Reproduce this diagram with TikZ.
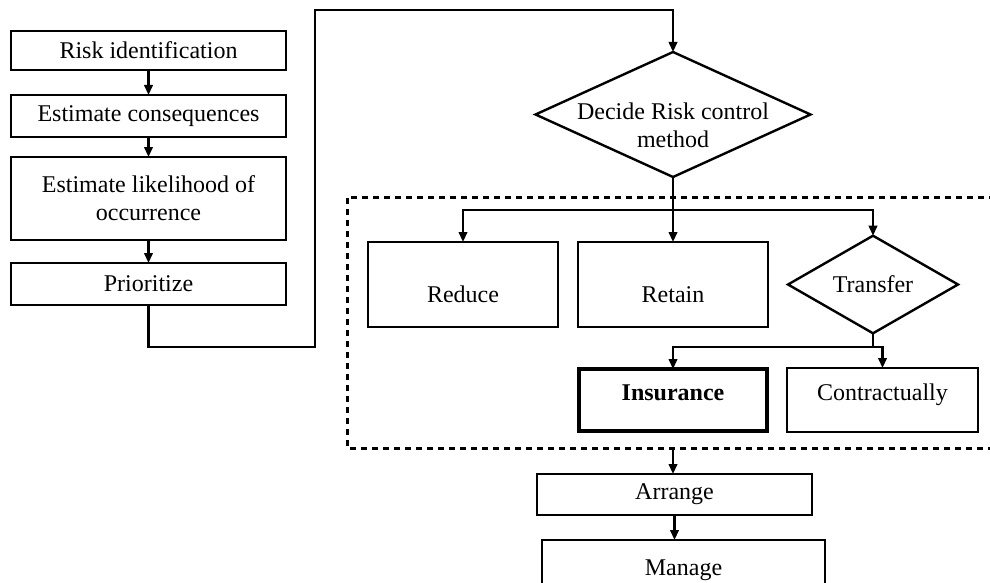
\documentclass[tikz,border=0pt]{standalone}
\usepackage{fontspec}
\setmainfont{Liberation Serif}
\usetikzlibrary{shapes.geometric,arrows.meta}
\newcommand\zerotext[1]{\makebox[0pt]{\smash{\raisebox{-20pt}{\begin{tabular}{@{}c@{}}#1\end{tabular}}}}}
\begin{document}
\begin{tikzpicture}[x=1pt,y=-1pt,
  every node/.style={font=\fontsize{24}{28}\selectfont, inner sep=0pt, outer sep=0pt},
  boxnode/.style={draw, line width=2.4pt, rectangle, align=center},
  thickbox/.style={draw, line width=4pt, rectangle, align=center},
  dianode/.style={draw, line width=2.4pt, diamond, align=center},
  arr/.style={line width=2.2pt, -{Triangle[length=10pt,width=8.5pt]}},
  conn/.style={line width=2.2pt},
  dashbox/.style={line width=3pt, dash pattern=on 6pt off 5pt}]
\useasboundingbox (0,0) rectangle (990,583);
\fill[white] (0,0) rectangle (990,583);

% left column
\node[boxnode, minimum width=275pt, minimum height=39pt] (risk) at (148.5,50.5) {Risk identification};
\node[boxnode, minimum width=275pt, minimum height=42pt] (cons) at (148.5,116) {Estimate consequences};
\node[boxnode, minimum width=275pt, minimum height=83pt] (like) at (148.5,198.5) {Estimate likelihood of\\occurrence};
\node[boxnode, minimum width=275pt, minimum height=42pt] (prio) at (148.5,284) {Prioritize};

% decision
\node[dianode, minimum width=275pt, minimum height=125pt] (decide) at (673,114.5) {\zerotext{Decide Risk control\\method}};

% inner group
\node[boxnode, minimum width=190pt, minimum height=85pt, text height=36pt, text depth=0pt] (reduce) at (463,284.5) {Reduce};
\node[boxnode, minimum width=190pt, minimum height=85pt, text height=36pt, text depth=0pt] (retain) at (673,284.5) {Retain};
\node[dianode, minimum width=170pt, minimum height=85pt] (transfer) at (873,284.5) {Transfer};
\node[thickbox, minimum width=188pt, minimum height=62pt, text height=8pt, text depth=8pt] (insurance) at (673,400) {\textbf{Insurance}};
\node[boxnode, minimum width=191pt, minimum height=64pt, text height=8pt, text depth=8pt] (contract) at (882.5,400) {Contractually};

% bottom
\node[boxnode, minimum width=275pt, minimum height=41pt] (arrange) at (674.5,494.5) {Arrange};
\node[boxnode, minimum width=283pt, minimum height=60pt] (manage) at (683.5,570) {Manage};

% dashed group frame (open to the right edge)
\coordinate (dtr) at (995,197);
\coordinate (dtl) at (347,197);
\coordinate (dbl) at (347,448);
\coordinate (dbr) at (995,448);
\draw[dashbox] (dtr) -- (dtl) -- (dbl) -- (dbr);

% left column connectors
\draw[arr] (risk.south) -- (cons.north);
\draw[arr] (cons.south) -- (like.north);
\draw[arr] (like.south) -- (prio.north);

% loop to decision
\coordinate (c1) at (315,347);
\coordinate (c2) at (315,10);
\draw[arr] (prio.south) |- (c1) -- (c2) -| (decide.north);

% decision branches
\coordinate (br) at (673,210);
\draw[arr] (decide.south) -- (retain.north);
\draw[arr] (br) -| (reduce.north);
\draw[arr] (br) -| (transfer.north);

% transfer branches
\coordinate (tb) at (873,347);
\draw[conn] (transfer.south) -- (tb);
\draw[arr] (tb) -| (insurance.north);
\draw[arr] (tb) -| (contract.north);

% bottom connectors
\coordinate (db) at (673,448);
\draw[arr] (db) -- (arrange.north -| db);
\draw[arr] (arrange.south) -- (manage.north -| arrange.south);
\end{tikzpicture}
\end{document}
